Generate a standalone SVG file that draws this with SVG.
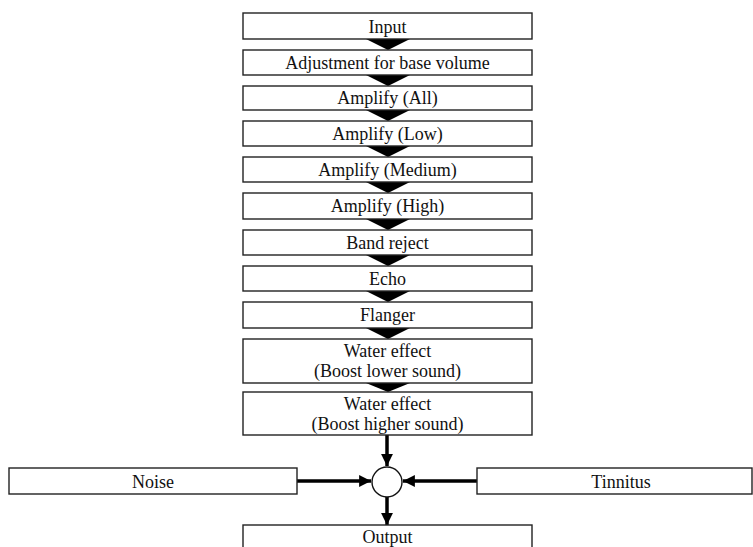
<svg xmlns="http://www.w3.org/2000/svg" width="753" height="547" viewBox="0 0 753 547">
<style>
.box{fill:#fff;stroke:#222;stroke-width:1.4}
.t{font-family:'Liberation Serif','Times New Roman','DejaVu Serif',serif;font-size:18px;fill:#111;text-anchor:middle}
.tri{fill:#000}
.ln{stroke:#000;stroke-width:3.5;fill:none}
</style>
<defs>
<marker id="ah" viewBox="0 0 10 10" refX="10" refY="5" markerWidth="3.4" markerHeight="3.4" orient="auto" markerUnits="strokeWidth">
<path d="M0,0 L10,5 L0,10 Z" fill="#000"/>
</marker>
</defs>
<rect width="753" height="547" fill="#fff"/>
<g id="connectors">
<polygon class="tri" points="366,39 410,39 388,50"/>
<polygon class="tri" points="366,75 410,75 388,86"/>
<polygon class="tri" points="366,110 410,110 388,121"/>
<polygon class="tri" points="366,146 410,146 388,157"/>
<polygon class="tri" points="366,182 410,182 388,193"/>
<polygon class="tri" points="366,219 410,219 388,230"/>
<polygon class="tri" points="366,255 410,255 388,266"/>
<polygon class="tri" points="366,291 410,291 388,302"/>
<polygon class="tri" points="366,328 410,328 388,339"/>
<polygon class="tri" points="366,383 410,383 388,392"/>
<line class="ln" x1="387" y1="435" x2="387" y2="466" marker-end="url(#ah)"/>
<line class="ln" x1="297" y1="481" x2="371" y2="481" marker-end="url(#ah)"/>
<line class="ln" x1="477" y1="481" x2="403" y2="481" marker-end="url(#ah)"/>
<line class="ln" x1="387" y1="497" x2="387" y2="525" marker-end="url(#ah)"/>
</g>
<g id="input"><rect class="box" x="243" y="13" width="289" height="26"/><text class="t" x="387.5" y="32.5">Input</text></g>
<g id="adjust"><rect class="box" x="243" y="50" width="289" height="25"/><text class="t" x="387.5" y="68.5">Adjustment for base volume</text></g>
<g id="amp-all"><rect class="box" x="243" y="86" width="289" height="24"/><text class="t" x="387.5" y="104">Amplify (All)</text></g>
<g id="amp-low"><rect class="box" x="243" y="121" width="289" height="25"/><text class="t" x="387.5" y="139.5">Amplify (Low)</text></g>
<g id="amp-med"><rect class="box" x="243" y="157" width="289" height="25"/><text class="t" x="387.5" y="175.5">Amplify (Medium)</text></g>
<g id="amp-high"><rect class="box" x="243" y="193" width="289" height="26"/><text class="t" x="387.5" y="212">Amplify (High)</text></g>
<g id="band-reject"><rect class="box" x="243" y="230" width="289" height="25"/><text class="t" x="387.5" y="248.5">Band reject</text></g>
<g id="echo"><rect class="box" x="243" y="266" width="289" height="25"/><text class="t" x="387.5" y="284.5">Echo</text></g>
<g id="flanger"><rect class="box" x="243" y="302" width="289" height="26"/><text class="t" x="387.5" y="321">Flanger</text></g>
<g id="water-low"><rect class="box" x="243" y="339" width="289" height="44"/><text class="t" x="387.5" y="357">Water effect</text><text class="t" x="387.5" y="377">(Boost lower sound)</text></g>
<g id="water-high"><rect class="box" x="243" y="392" width="289" height="43"/><text class="t" x="387.5" y="410">Water effect</text><text class="t" x="387.5" y="430">(Boost higher sound)</text></g>
<g id="noise"><rect class="box" x="9" y="468" width="288" height="26"/><text class="t" x="153" y="487.5">Noise</text></g>
<g id="tinnitus"><rect class="box" x="477" y="468" width="275" height="26"/><text class="t" x="621" y="487.5">Tinnitus</text></g>
<g id="sum"><circle cx="387" cy="482" r="15" fill="#fff" stroke="#111" stroke-width="1.4"/></g>
<g id="output"><rect class="box" x="243" y="525" width="289" height="30"/><text class="t" x="387.5" y="543">Output</text></g>
</svg>
